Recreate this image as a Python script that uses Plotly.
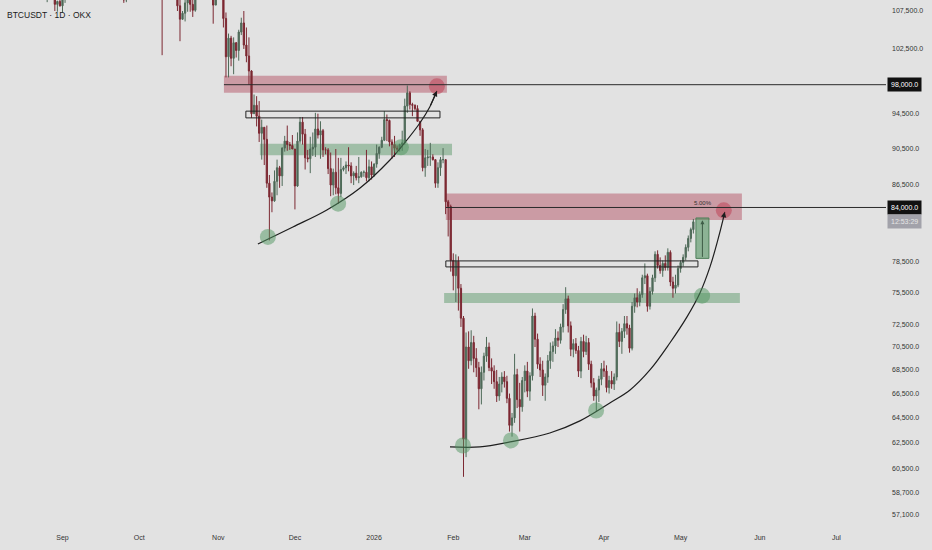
import numpy as np
import pandas as pd
import plotly.graph_objects as go

# BTCUSDT daily candles (open, high, low, close) in thousands
aug = [  # from Aug 8 2025
    (116.6, 117.9, 115.9, 116.6), (116.6, 117.9, 116.3, 116.5), (116.5, 119.3, 116.5, 119.3),
    (119.3, 122.3, 118.1, 118.7), (118.7, 120.3, 118.2, 120.2), (120.2, 123.7, 118.9, 123.3),
    (123.3, 124.5, 117.2, 118.3), (118.3, 119.2, 116.8, 117.4), (117.4, 117.9, 117.2, 117.5),
    (117.5, 118.6, 117.3, 117.5), (117.5, 117.6, 114.7, 116.3), (116.3, 116.8, 112.7, 112.9),
    (112.9, 114.6, 112.4, 114.3), (114.3, 114.8, 112.6, 112.6), (112.6, 117.4, 111.7, 116.9),
    (116.9, 117.0, 114.6, 115.4), (115.4, 115.7, 110.8, 113.5), (113.5, 113.6, 109.3, 110.1),
    (110.1, 112.4, 108.7, 111.8), (111.8, 112.6, 110.4, 111.3), (111.3, 113.5, 110.9, 112.6),
    (112.6, 112.7, 107.5, 108.4), (108.4, 108.9, 107.4, 108.8), (108.8, 109.5, 108.1, 108.2),
]
sep = [
    (108.2, 109.9, 107.3, 109.2), (109.2, 111.8, 108.6, 111.2), (111.2, 112.6, 110.4, 111.7),
    (111.7, 112.2, 109.3, 110.7), (110.7, 113.4, 110.2, 110.7), (110.7, 111.3, 110.0, 110.2),
    (110.2, 111.6, 110.2, 111.1), (111.1, 112.9, 110.6, 112.0), (112.0, 113.3, 110.9, 111.5),
    (111.5, 114.3, 110.8, 113.9), (113.9, 115.5, 113.4, 115.4), (115.4, 116.7, 114.7, 116.1),
    (116.1, 116.3, 115.3, 115.9), (115.9, 116.1, 115.2, 115.3), (115.3, 116.8, 114.4, 115.4),
    (115.4, 116.9, 114.8, 116.8), (116.8, 117.3, 114.7, 116.5), (116.5, 117.9, 116.2, 117.1),
    (117.1, 117.4, 115.1, 115.7), (115.7, 116.3, 115.6, 115.7), (115.7, 115.9, 115.1, 115.3),
    (115.3, 115.4, 112.0, 112.7), (112.7, 113.4, 111.6, 112.0), (112.0, 113.9, 111.1, 113.3),
    (113.3, 113.5, 108.6, 109.0), (109.0, 110.3, 108.7, 109.7), (109.7, 109.8, 109.2, 109.7),
    (109.7, 112.4, 109.4, 112.1), (112.1, 114.4, 111.6, 114.4), (114.4, 114.8, 112.7, 114.0),
]
oct_ = [
    (114.0, 118.6, 113.9, 118.6), (118.6, 121.0, 118.3, 120.6), (120.6, 123.9, 119.3, 122.3),
    (122.3, 122.8, 121.6, 122.4), (122.4, 125.7, 122.2, 123.5), (123.5, 126.2, 123.0, 124.7),
    (124.7, 125.1, 120.6, 121.4), (121.4, 124.2, 121.1, 123.3), (123.3, 123.7, 119.6, 121.7),
    (121.7, 122.5, 101.7, 113.2), (113.2, 113.4, 109.7, 110.6), (110.6, 115.8, 109.6, 115.2),
    (115.2, 116.0, 113.0, 115.3), (115.3, 115.3, 110.0, 113.0), (113.0, 113.6, 110.2, 110.7),
    (110.7, 111.9, 107.5, 108.2), (108.2, 109.2, 103.5, 106.4), (106.4, 107.5, 106.3, 107.2),
    (107.2, 109.4, 106.1, 108.6), (108.6, 111.7, 107.4, 110.5), (110.5, 114.0, 107.4, 108.4),
    (108.4, 109.1, 106.7, 107.6), (107.6, 111.2, 107.4, 110.0), (110.0, 111.9, 109.7, 111.0),
    (111.0, 111.7, 110.6, 111.6), (111.6, 115.0, 111.3, 114.5), (114.5, 116.4, 113.8, 114.1),
    (114.1, 116.1, 112.2, 112.9), (112.9, 113.6, 109.2, 110.0), (110.0, 111.6, 105.8, 108.3),
    (108.3, 111.2, 108.3, 109.6),
]
nov = [
    (109.6, 110.6, 109.4, 110.1), (110.1, 111.3, 109.6, 110.6), (110.6, 110.8, 105.3, 106.5),
    (106.5, 107.3, 98.9, 101.5), (101.5, 104.5, 98.9, 103.9), (103.9, 104.2, 100.3, 101.3),
    (101.3, 104.0, 99.3, 103.3), (103.3, 103.4, 101.4, 102.3), (102.3, 105.0, 101.0, 104.7),
    (104.7, 106.6, 104.3, 105.9), (105.9, 107.5, 102.5, 103.0), (103.0, 105.3, 100.8, 101.6),
    (101.6, 104.0, 98.0, 99.7), (99.7, 99.8, 94.0, 94.5), (94.5, 96.8, 94.5, 95.5),
    (95.5, 96.6, 93.0, 94.2), (94.2, 96.0, 91.2, 92.2), (92.2, 93.8, 89.2, 92.9),
    (92.9, 92.9, 88.6, 91.5), (91.5, 93.1, 86.1, 86.6), (86.6, 87.5, 80.6, 85.1),
    (85.1, 85.6, 83.5, 84.7), (84.7, 88.0, 84.6, 86.8), (86.8, 89.2, 85.3, 88.3),
    (88.3, 88.5, 86.1, 87.4), (87.4, 90.6, 86.3, 90.5), (90.5, 91.9, 90.1, 91.3),
    (91.3, 93.1, 90.2, 90.9), (90.9, 91.2, 90.3, 90.8), (90.8, 92.0, 90.4, 90.4),
]
dec = [
    (90.4, 90.4, 83.8, 86.3), (86.3, 92.3, 86.2, 91.3), (91.3, 94.1, 91.0, 93.5),
    (93.5, 94.1, 90.9, 92.1), (92.1, 92.7, 88.1, 89.4), (89.4, 90.3, 88.9, 89.3),
    (89.3, 91.8, 87.7, 90.4), (90.4, 92.3, 89.6, 90.6), (90.6, 94.6, 89.5, 92.7),
    (92.7, 94.5, 91.6, 92.0), (92.0, 93.6, 89.3, 92.5), (92.5, 92.7, 89.5, 90.3),
    (90.3, 90.6, 89.8, 90.3), (90.3, 90.5, 87.6, 88.2), (88.2, 90.0, 85.2, 86.4),
    (86.4, 88.2, 85.3, 87.8), (87.8, 90.4, 85.4, 86.1), (86.1, 89.4, 84.4, 85.5),
    (85.5, 89.4, 85.1, 88.1), (88.1, 88.5, 87.9, 88.3), (88.3, 89.0, 87.6, 88.6),
    (88.6, 90.6, 87.9, 88.5), (88.5, 88.9, 86.6, 87.4), (87.4, 87.9, 86.4, 87.7),
    (87.7, 88.5, 86.9, 87.2), (87.2, 89.5, 86.6, 87.3), (87.3, 87.9, 87.2, 87.8),
    (87.8, 88.0, 87.3, 87.8), (87.8, 90.3, 86.8, 87.2), (87.2, 89.2, 86.8, 88.4),
    (88.4, 89.0, 87.0, 87.5),
]
jan = [
    (87.5, 88.8, 87.3, 88.7), (88.7, 90.9, 88.3, 89.9), (89.9, 90.7, 89.3, 90.6),
    (90.6, 91.8, 90.5, 91.4), (91.4, 94.8, 91.3, 93.8), (93.8, 94.4, 91.3, 93.7),
    (93.7, 93.8, 90.7, 91.2), (91.2, 91.5, 89.3, 90.9), (90.9, 91.9, 89.5, 90.5),
    (90.5, 90.8, 90.2, 90.4), (90.4, 91.0, 90.1, 90.9), (90.9, 92.5, 90.2, 91.1),
    (91.1, 96.3, 90.9, 95.4), (95.4, 97.9, 94.6, 97.0), (97.0, 97.2, 95.0, 95.6),
    (95.6, 95.8, 94.2, 95.5), (95.5, 95.6, 94.9, 95.1), (95.1, 95.5, 93.6, 93.6),
    (93.6, 93.6, 91.9, 92.6), (92.6, 92.8, 87.9, 88.3), (88.3, 90.4, 87.3, 89.4),
    (89.4, 90.3, 88.5, 89.5), (89.5, 91.1, 88.5, 89.5), (89.5, 89.8, 89.1, 89.2),
    (89.2, 89.2, 86.1, 86.6), (86.6, 88.9, 86.1, 88.3), (88.3, 89.5, 87.4, 89.2),
    (89.2, 90.5, 88.8, 89.2), (89.2, 89.2, 83.3, 84.6), (84.6, 84.8, 81.0, 84.1),
    (84.1, 84.3, 77.5, 78.6),
]
feb = [
    (78.6, 79.3, 75.7, 77.1), (77.1, 79.2, 74.6, 78.5), (78.5, 79.0, 73.8, 75.9),
    (75.9, 76.3, 72.3, 73.1), (73.1, 73.3, 59.9, 62.8), (62.8, 71.8, 61.4, 70.5),
    (70.5, 71.9, 68.6, 69.3), (69.3, 72.0, 68.9, 70.9), (70.9, 71.5, 68.3, 69.5),
    (69.5, 70.4, 67.9, 68.7), (68.7, 69.2, 65.2, 66.9), (66.9, 68.8, 65.6, 68.3),
    (68.3, 70.0, 67.6, 69.7), (69.7, 71.4, 69.2, 70.5), (70.5, 70.9, 68.4, 68.7),
    (68.7, 69.5, 67.3, 68.4), (68.4, 68.9, 66.9, 67.5), (67.5, 68.5, 65.8, 66.3),
    (66.3, 67.9, 65.9, 67.3), (67.3, 68.3, 66.6, 67.9), (67.9, 68.4, 67.0, 67.5),
    (67.5, 68.0, 65.7, 66.1), (66.1, 66.5, 63.4, 63.9), (63.9, 64.9, 63.0, 64.5),
    (64.5, 69.9, 64.1, 68.1), (68.1, 68.6, 65.3, 66.0), (66.0, 67.4, 63.4, 65.4),
    (65.4, 67.9, 65.0, 67.6),
]
mar = [
    (67.6, 68.9, 66.6, 68.4), (68.4, 69.2, 66.2, 66.7), (66.7, 68.3, 65.9, 68.0),
    (68.0, 74.0, 67.6, 73.3), (73.3, 73.6, 70.5, 71.2), (71.2, 71.7, 68.6, 69.0),
    (69.0, 69.6, 67.9, 68.5), (68.5, 69.3, 66.3, 67.2), (67.2, 68.2, 65.9, 67.9),
    (67.9, 69.8, 67.4, 69.3), (69.3, 70.9, 68.6, 70.1), (70.1, 71.0, 69.2, 70.6),
    (70.6, 72.1, 69.9, 71.3), (71.3, 71.9, 70.5, 71.1), (71.1, 72.6, 70.8, 72.3),
    (72.3, 74.4, 71.8, 73.9), (73.9, 76.0, 73.5, 74.9), (74.9, 75.2, 71.8, 72.4),
    (72.4, 72.8, 69.7, 70.3), (70.3, 71.2, 69.6, 70.8), (70.8, 71.3, 69.9, 70.2),
    (70.2, 70.6, 67.9, 68.4), (68.4, 71.4, 67.8, 71.0), (71.0, 71.6, 69.6, 70.1),
    (70.1, 71.5, 69.8, 70.9), (70.9, 71.3, 68.5, 69.0), (69.0, 69.3, 67.0, 67.4),
    (67.4, 67.8, 65.9, 66.3), (66.3, 67.0, 65.0, 66.8), (66.8, 68.0, 65.8, 67.7),
    (67.7, 69.1, 67.2, 68.6),
]
apr = [
    (68.6, 69.3, 67.9, 68.4), (68.4, 68.9, 66.6, 67.0), (67.0, 68.0, 66.5, 67.6),
    (67.6, 68.4, 66.9, 67.3), (67.3, 68.2, 66.8, 67.9), (67.9, 72.8, 67.6, 71.8),
    (71.8, 72.6, 70.5, 71.0), (71.0, 72.2, 69.9, 71.9), (71.9, 73.3, 71.3, 72.6),
    (72.6, 73.3, 71.6, 72.2), (72.2, 72.5, 70.0, 70.4), (70.4, 74.6, 70.2, 74.2),
    (74.2, 75.4, 73.6, 75.0), (75.0, 75.9, 74.1, 74.6), (74.6, 75.6, 74.2, 75.3),
    (75.3, 77.2, 75.0, 76.9), (76.9, 78.3, 76.3, 77.1), (77.1, 77.3, 73.7, 74.2),
    (74.2, 76.0, 73.9, 75.6), (75.6, 77.2, 75.3, 76.9), (76.9, 79.5, 76.5, 79.2),
    (79.2, 79.6, 77.8, 78.1), (78.1, 78.9, 77.3, 77.6), (77.6, 78.6, 77.0, 78.3),
    (78.3, 79.1, 77.6, 77.9), (77.9, 79.8, 77.6, 79.4), (79.4, 79.6, 76.1, 76.5),
    (76.5, 77.0, 75.0, 75.9), (75.9, 77.2, 75.4, 76.2), (76.2, 78.1, 76.0, 77.8),
]
may = [
    (77.8, 78.6, 77.4, 78.4), (78.4, 79.2, 78.0, 78.9), (78.9, 80.2, 78.6, 79.9),
    (79.9, 81.1, 79.5, 80.8), (80.8, 81.9, 80.4, 81.7), (81.7, 82.8, 81.3, 82.5),
]
first_day = '2025-08-08'

# price scale ticks shown on the right
price_ticks = [107500, 102500, 94500, 90500, 86500, 78500, 75500, 72500,
               70500, 68500, 66500, 64500, 62500, 60500, 58700, 57100]
month_ticks = ['2025-09-01', '2025-10-01', '2025-11-01', '2025-12-01', '2026-01-01', '2026-02-01',
               '2026-03-01', '2026-04-01', '2026-05-01', '2026-06-01', '2026-07-01']
month_labels = ['Sep', 'Oct', 'Nov', 'Dec', '2026', 'Feb', 'Mar', 'Apr', 'May', 'Jun', 'Jul']

# drawings: zones (start, end, low, high) in thousands
red_zones = [('2025-11-03 05:00', '2026-01-29 12:00', 97.0, 99.1),
             ('2026-01-29 02:00', '2026-05-25 00:00', 82.7, 85.5)]
green_zones = [('2025-11-17 07:00', '2026-01-31 12:00', 89.7, 91.0),
               ('2026-01-28 10:00', '2026-05-24 05:00', 74.5, 75.45)]
range_boxes = [('2025-11-11 19:00', '2026-01-26 19:00', 94.0, 94.8),
               ('2026-01-29 02:00', '2026-05-07 19:00', 77.96, 78.55)]
levels = [('2025-11-03 05:00', 98.0), ('2026-01-29 02:00', 84.0)]
projection = ('2026-05-07 00:00', '2026-05-12 02:00', 78.8, 82.9)

curve1_x = ['2025-11-16 12:00', '2025-11-30 05:00', '2025-12-13 12:00', '2025-12-26 12:00',
            '2026-01-07 05:00', '2026-01-12 07:00', '2026-01-18 22:00', '2026-01-22 19:00',
            '2026-01-25 14:00']
curve1_y = [80.24, 81.97, 83.74, 86.08, 89.16, 90.86, 93.40, 95.30, 97.24]
curve2_x = ['2026-01-30 17:00', '2026-02-11 10:00', '2026-02-23 05:00', '2026-03-10 19:00',
            '2026-03-22 14:00', '2026-04-03 07:00', '2026-04-11 05:00', '2026-04-19 00:00',
            '2026-04-26 19:00', '2026-05-03 12:00', '2026-05-08 14:00', '2026-05-12 12:00',
            '2026-05-15 14:00', '2026-05-17 14:00', '2026-05-18 07:00']
curve2_y = [62.19, 62.19, 62.58, 63.29, 64.26, 65.72, 66.80, 68.50,
            70.86, 73.22, 75.45, 77.96, 80.65, 82.70, 83.53]

green_dots_x = ['2025-11-20 10:00', '2025-12-17 22:00', '2026-01-11 12:00', '2026-02-04 19:00',
                '2026-02-23 14:00', '2026-03-28 22:00', '2026-05-09 10:00']
green_dots_y = [80.95, 84.4, 90.6, 62.3, 62.7, 65.1, 75.2]
red_dots_x = ['2026-01-25 14:00', '2026-05-17 22:00']
red_dots_y = [97.8, 83.7]

x_range = ['2025-08-07 12:44', '2026-07-20 10:00']
y_range = [56384, 108995]

UP = '#4e6a58'
DOWN = '#7c2832'
BG = '#e2e2e2'
FONT = 'Liberation Sans'


def k(v):
    return v * 1000


candles = aug + sep + oct_ + nov + dec + jan + feb + mar + apr + may
df = pd.DataFrame(candles, columns=['open', 'high', 'low', 'close']) * 1000
df['date'] = pd.date_range(first_day, periods=len(df), freq='D')

fig = go.Figure()

fig.add_trace(go.Candlestick(
    x=df['date'], open=df['open'], high=df['high'], low=df['low'], close=df['close'],
    increasing=dict(line=dict(color=UP, width=1), fillcolor=UP),
    decreasing=dict(line=dict(color=DOWN, width=1), fillcolor=DOWN),
    hoverinfo='skip'))

# zones
for x0, x1, lo, hi in red_zones:
    fig.add_shape(type='rect', x0=x0, x1=x1, y0=k(lo), y1=k(hi), line_width=0,
                  fillcolor='rgba(165,40,62,0.38)', layer='below')
for x0, x1, lo, hi in green_zones:
    fig.add_shape(type='rect', x0=x0, x1=x1, y0=k(lo), y1=k(hi), line_width=0,
                  fillcolor='rgba(70,140,85,0.42)', layer='below')
for x0, x1, lo, hi in range_boxes:
    fig.add_shape(type='rect', x0=x0, x1=x1, y0=k(lo), y1=k(hi),
                  line=dict(color='#222', width=1), fillcolor='rgba(0,0,0,0)')
for x0, lvl in levels:
    fig.add_shape(type='line', x0=x0, x1=x_range[1], y0=k(lvl), y1=k(lvl),
                  line=dict(color='#2a2a2a', width=1))

# projection box
px0, px1, plo, phi = projection
fig.add_shape(type='rect', x0=px0, x1=px1, y0=k(plo), y1=k(phi),
              line=dict(color='#4f7f5a', width=1), fillcolor='rgba(70,140,85,0.55)')
mid = pd.Timestamp(px0) + (pd.Timestamp(px1) - pd.Timestamp(px0)) / 2
fig.add_annotation(x=mid, y=np.log10(k(phi) * 0.997), ax=mid, ay=np.log10(k(plo)),
                   axref='x', ayref='y', showarrow=True, arrowhead=2, arrowsize=0.8,
                   arrowwidth=1, arrowcolor='#3d5c46', text='')

# curves
for cx, cy in [(curve1_x, curve1_y), (curve2_x, curve2_y)]:
    fig.add_trace(go.Scatter(x=cx, y=[k(v) for v in cy], mode='lines',
                             line=dict(color='#1e1e1e', width=1.2, shape='spline', smoothing=1),
                             hoverinfo='skip'))
for cx, cy in [(curve1_x, curve1_y), (curve2_x, curve2_y)]:
    fig.add_annotation(x=cx[-1], y=np.log10(k(cy[-1])), ax=cx[-2], ay=np.log10(k(cy[-2])),
                       axref='x', ayref='y', showarrow=True, arrowhead=2, arrowsize=0.9,
                       arrowwidth=1.2, arrowcolor='#1e1e1e', text='', standoff=0)

fig.add_trace(go.Scatter(x=green_dots_x, y=[k(v) for v in green_dots_y], mode='markers',
                         marker=dict(size=16, color='rgba(80,150,95,0.5)'), hoverinfo='skip'))
fig.add_trace(go.Scatter(x=red_dots_x, y=[k(v) for v in red_dots_y], mode='markers',
                         marker=dict(size=16, color='rgba(190,60,80,0.5)'), hoverinfo='skip'))

fig.add_annotation(x='2026-05-09 17:00', y=np.log10(84500), text='5.00%', showarrow=False,
                   font=dict(family=FONT, size=6, color='#333'))

# price labels on the axis
for lvl in levels:
    fig.add_annotation(xref='paper', x=1.0, xanchor='left', xshift=1, y=np.log10(k(lvl[1])),
                       text=f'{k(lvl[1]):,.1f}', showarrow=False, bgcolor='#111111',
                       font=dict(family=FONT, size=7, color='white'), borderpad=3)
fig.add_annotation(xref='paper', x=1.0, xanchor='left', xshift=1, y=np.log10(82500),
                   text='12:53:29', showarrow=False, bgcolor='#a2a2aa',
                   font=dict(family=FONT, size=7, color='#e6e6e6'), borderpad=3)

fig.add_annotation(xref='paper', yref='paper', x=0, y=1, xshift=5, yshift=-15,
                   xanchor='left', yanchor='middle', text='BTCUSDT · 1D · OKX',
                   showarrow=False, font=dict(family=FONT, size=8.5, color='#1a1a1a'))

fig.update_layout(
    width=932, height=550, margin=dict(l=0, r=46, t=0, b=25),
    plot_bgcolor=BG, paper_bgcolor=BG, showlegend=False,
    font=dict(family=FONT, size=7, color='#333'),
)
fig.update_xaxes(type='date', range=x_range, showgrid=False, zeroline=False, showline=False,
                 rangeslider_visible=False, tickvals=month_ticks, ticktext=month_labels,
                 ticks='', ticklabelstandoff=7, tickfont=dict(size=7, color='#333'))
fig.update_yaxes(type='log', side='right', range=[np.log10(y_range[0]), np.log10(y_range[1])],
                 showgrid=False, zeroline=False, showline=False, ticks='', ticklabelstandoff=5,
                 tickvals=price_ticks, ticktext=[f'{v:,.1f}' for v in price_ticks],
                 tickfont=dict(size=7, color='#333'))

fig.write_html('out.html', config={'displayModeBar': False},
               post_script="document.body.style.margin='0';")
